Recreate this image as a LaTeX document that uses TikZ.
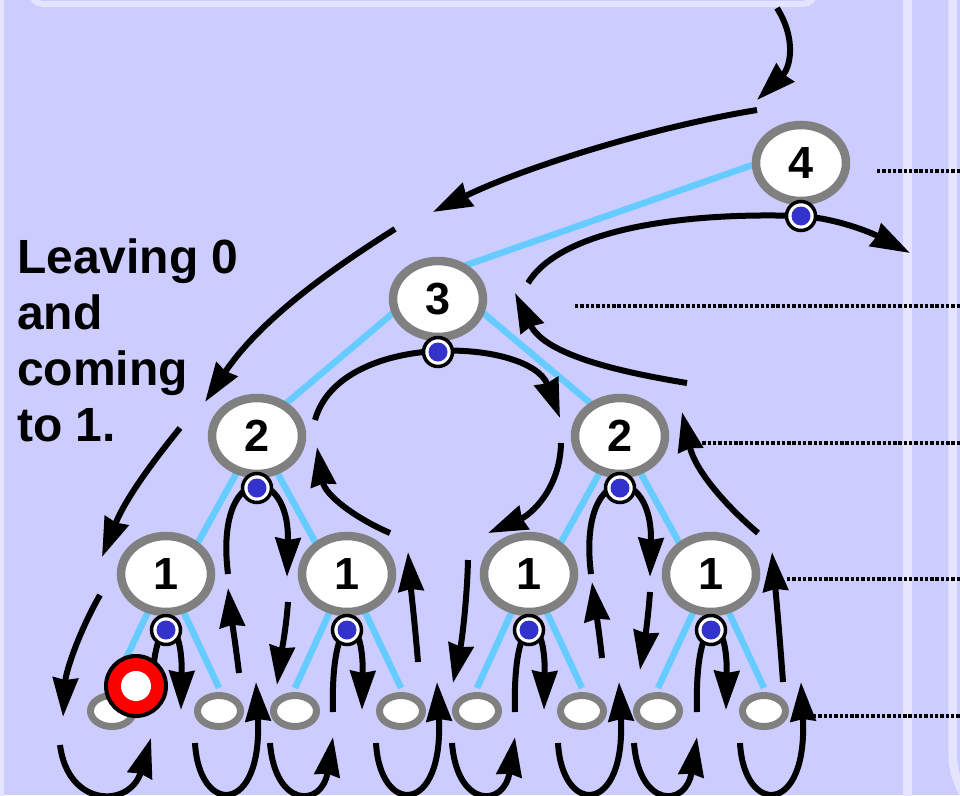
\documentclass[tikz,border=0pt]{standalone}
\usepackage{fontspec}
\setmainfont{Liberation Sans}
\usetikzlibrary{shapes.geometric,arrows.meta,calc}
\definecolor{bg}{HTML}{CCCCFF}
\definecolor{panelline}{HTML}{E4E4FF}
\definecolor{edgecyan}{HTML}{66CCFF}
\definecolor{nodegray}{HTML}{808080}
\definecolor{dotblue}{HTML}{3333CC}
\definecolor{markred}{HTML}{FF0000}
\pgfdeclarelayer{background}
\pgfsetlayers{background,main}
\begin{document}
\begin{tikzpicture}[x=1pt,y=-1pt,
  treenode/.style={ellipse, draw=nodegray, line width=8.5pt, fill=white,
    minimum width=90pt, minimum height=76pt, inner sep=0pt,
    font=\fontsize{45}{45}\selectfont\bfseries},
  leafnode/.style={ellipse, draw=nodegray, line width=7pt, fill=white,
    minimum width=43pt, minimum height=31pt, inner sep=0pt},
  treeedge/.style={draw=edgecyan, line width=6.5pt},
  tour/.style={draw=black, line width=6pt,
    -{Stealth[length=39pt,width=25pt,inset=2pt]}},
  dotnode/.style={circle, draw=black, line width=3.5pt, fill=white,
    minimum size=29pt, inner sep=0pt,
    path picture={\fill[dotblue] (path picture bounding box.center) circle[radius=9.5pt];}},
  marknode/.style={circle, draw=black, line width=4pt, fill=markred,
    minimum size=60pt, inner sep=0pt,
    path picture={\fill[white] (path picture bounding box.center) circle[radius=15pt];}},
  guide/.style={draw=black, line width=4pt, dash pattern=on 3.4pt off 1.9pt},
  panel/.style={draw=panelline, line width=6pt},
]
\useasboundingbox (0,0) rectangle (960,795);

% tree nodes
\node[treenode] (n4)  at (801,163) {4};
\node[treenode] (n3)  at (438,299) {3};
\node[treenode] (n2a) at (257,436) {2};
\node[treenode] (n2b) at (620,436) {2};
\node[treenode] (n1a) at (166,574) {1};
\node[treenode] (n1b) at (347,574) {1};
\node[treenode] (n1c) at (529,574) {1};
\node[treenode] (n1d) at (711,574) {1};
\node[leafnode] (l1) at (112,711) {};
\node[leafnode] (l2) at (219,711) {};
\node[leafnode] (l3) at (295,711) {};
\node[leafnode] (l4) at (401,711) {};
\node[leafnode] (l5) at (477,711) {};
\node[leafnode] (l6) at (582,711) {};
\node[leafnode] (l7) at (658,711) {};
\node[leafnode] (l8) at (764,711) {};

\begin{pgfonlayer}{background}
  \fill[bg] (0,0) rectangle (960,795);
  \draw[panel, line width=7pt] (0,-10) -- (0,805);
  \draw[panel, rounded corners=12pt] (31,-20) -- (31,4) -- (815,4) -- (815,-20);
  \draw[panel, line width=8.5pt] (907.5,-10) -- (907.5,805);
  \draw[panel, line width=8.5pt] (952.5,-10) -- (952.5,753)
     .. controls (952.5,797) and (988,833) .. (1032,833);
  % tree edges
  \draw[treeedge] ($(n4.center)+(0,-15)$) -- ($(n3.center)+(0,-24)$);
  \draw[treeedge] ($(n3.center)+(0,-24)$) -- ($(n2a.center)+(0,-8)$);
  \draw[treeedge] ($(n3.center)+(0,-24)$) -- ($(n2b.center)+(0,-8)$);
  \foreach \p/\c in {n2a/n1a, n2a/n1b, n2b/n1c, n2b/n1d}
    \draw[treeedge] (\p.center) -- ($(\c.center)+(0,26)$);
  \foreach \p/\c in {n1a/l1, n1a/l2, n1b/l3, n1b/l4, n1c/l5, n1c/l6, n1d/l7, n1d/l8}
    \draw[treeedge] (\p.center) -- ($(\c.center)+(0,-23)$);
\end{pgfonlayer}

% Euler tour arrows
\draw[tour] (777,8) .. controls (797,40) and (790,68) .. (757,100);
\draw[tour] (757,110) .. controls (647,128) and (518,170) .. (433,212);
\draw[tour] (395,229) .. controls (330,270) and (260,320) .. (205,402);
\draw[tour] (180,428) .. controls (150,465) and (125,500) .. (102,557);
\draw[tour] (100,595) .. controls (80,630) and (66,670) .. (63,717);
\draw[tour] (60,745) .. controls (68,808) and (130,808) .. (151,738);
\foreach \cx in {166,347,529,711}{
  \draw[tour] ({\cx-14},712) .. controls ({\cx-17},607) and ({\cx+17},607) .. ({\cx+15},710);
  \draw[tour] ({\cx+29},743) .. controls ({\cx+33},816) and ({\cx+97},816) .. ({\cx+90},682);
}
\foreach \cx in {347,529,711}
  \draw[tour] ({\cx-77},743) .. controls ({\cx-72},808) and ({\cx-25},808) .. ({\cx-14},737);
\draw[tour] (239,673) .. controls (235,640) and (231,615) .. (228,588);
\draw[tour] (418,662) .. controls (415,625) and (411,590) .. (408,552);
\draw[tour] (602,658) .. controls (599,630) and (595,605) .. (592,582);
\draw[tour] (783,682) .. controls (780,640) and (776,595) .. (772,552);
\foreach \cx in {257,620}
  \draw[tour] ({\cx-29},574) .. controls ({\cx-43},462) and ({\cx+33},462) .. ({\cx+30},577);
\draw[tour] (288,602) .. controls (286,630) and (281,655) .. (277,685);
\draw[tour] (650,592) .. controls (648,620) and (644,645) .. (640,670);
\draw[tour] (390,533) .. controls (355,518) and (325,495) .. (317,447);
\draw[tour] (315,420) .. controls (340,330) and (530,338) .. (560,418);
\draw[tour] (561,443) .. controls (560,490) and (530,515) .. (488,533);
\draw[tour] (468,560) .. controls (467,600) and (462,640) .. (453,683);
\draw[tour] (758,533) .. controls (725,505) and (695,470) .. (682,412);
\draw[tour] (687,383) .. controls (620,372) and (545,355) .. (515,293);
\draw[tour] (528,283) .. controls (560,230) and (680,212) .. (800,216)
   .. controls (835,218) and (870,232) .. (910,253);

% dots
\node[dotnode] (d4)  at ($(n4)+(0,53)$) {};
\node[dotnode] (d3)  at ($(n3)+(0,53)$) {};
\node[dotnode] (d2a) at ($(n2a)+(0,52)$) {};
\node[dotnode] (d2b) at ($(n2b)+(0,52)$) {};
\node[dotnode] (d1a) at ($(n1a)+(0,56)$) {};
\node[dotnode] (d1b) at ($(n1b)+(0,56)$) {};
\node[dotnode] (d1c) at ($(n1c)+(0,56)$) {};
\node[dotnode] (d1d) at ($(n1d)+(0,56)$) {};

% current position marker
\node[marknode] (mark) at (136,686) {};

% label (base anchor = baseline of last line)
\node[anchor=base west, align=left, inner sep=0pt,
      font=\fontsize{48}{56}\selectfont\bfseries] (lbl) at (17,441)
  {Leaving 0\\and\\coming\\to 1.};

% level guide lines
\draw[guide] (877,171) -- (962,171);
\draw[guide] (575,306) -- (962,306);
\draw[guide] (697,443) -- (962,443);
\draw[guide] (787,579) -- (962,579);
\draw[guide] (813,716) -- (962,716);
\end{tikzpicture}
\end{document}
